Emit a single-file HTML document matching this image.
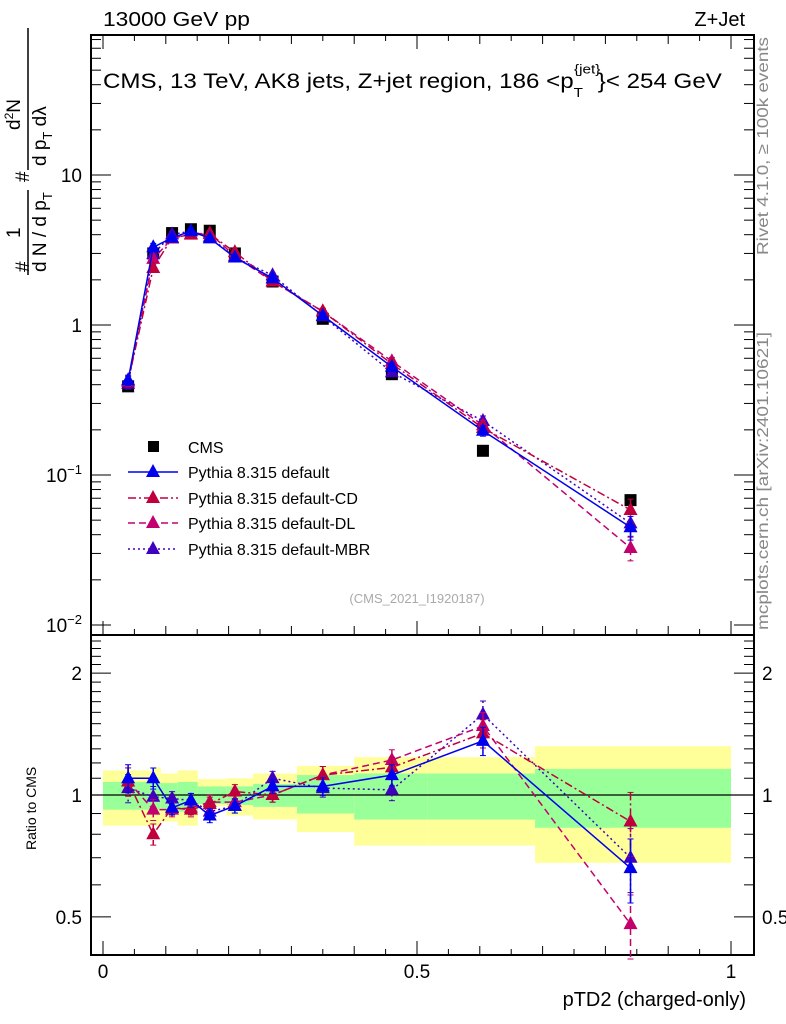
<!DOCTYPE html>
<html><head><meta charset="utf-8"><style>
html,body{margin:0;padding:0;background:#fff;}
svg{display:block;font-family:"Liberation Sans",sans-serif;}
</style></head><body>
<svg id="chart" width="786" height="1024" xmlns="http://www.w3.org/2000/svg">
<g id="bands"></g>
<g id="frames"></g>
<g id="series"></g>
<text transform="translate(103,26) scale(1.2,1.05)" font-size="19">13000 GeV pp</text>
<text x="745" y="26" font-size="20" text-anchor="end">Z+Jet</text>
<text transform="translate(103,88) scale(1.27,1.1)" font-size="19">CMS, 13 TeV, AK8 jets, Z+jet region, 186 &lt;p<tspan font-size="12" dy="8">T</tspan><tspan font-size="12" dx="-7" dy="-21">{jet}</tspan><tspan dy="13" dx="-2">}&lt; 254 GeV</tspan></text>
<text x="417" y="603" font-size="13" fill="#aaa" text-anchor="middle">(CMS_2021_I1920187)</text>
<text transform="translate(768,255) rotate(-90)" font-size="16" fill="#888" textLength="218" lengthAdjust="spacingAndGlyphs">Rivet 4.1.0, ≥ 100k events</text>
<text transform="translate(768,630) rotate(-90)" font-size="16" fill="#888" textLength="298" lengthAdjust="spacingAndGlyphs">mcplots.cern.ch [arXiv:2401.10621]</text>
<g font-size="19">
 <text transform="translate(29,272) rotate(-90)">#</text>
 <text transform="translate(20,238) rotate(-90)">1</text>
 <line x1="28" y1="275" x2="28" y2="190" stroke="#000" stroke-width="1.5"/>
 <text transform="translate(46,272) rotate(-90)">d N / d p<tspan font-size="13" dy="6">T</tspan></text>
 <text transform="translate(29,182) rotate(-90)">#</text>
 <text transform="translate(20,130) rotate(-90)">d<tspan font-size="12" dy="-7">2</tspan><tspan dy="7">N</tspan></text>
 <line x1="28" y1="170" x2="28" y2="28" stroke="#000" stroke-width="1.5"/>
 <text transform="translate(46,166) rotate(-90)">d p<tspan font-size="13" dy="6">T</tspan><tspan dy="-6"> d</tspan>λ</text>
</g>
<text transform="translate(36,850) rotate(-90)" font-size="14">Ratio to CMS</text>
<text x="746" y="1006" font-size="20" text-anchor="end">pTD2 (charged-only)</text>
<g id="legend" font-size="16"></g>
</svg>
<script>
const xCenters=[0.04,0.08,0.11,0.14,0.17,0.21,0.27,0.35,0.46,0.605,0.84];
const cmsValues=[0.39,3.0,4.1,4.35,4.25,3.0,1.95,1.1,0.47,0.145,0.068];
const cmsErr=[0.04,0.04,0.03,0.03,0.03,0.04,0.05,0.05,0.06,0.09,0.15];
const ratioDefault=[1.10,1.10,0.93,0.97,0.89,0.94,1.05,1.05,1.12,1.36,0.66];
const ratioCD=[1.08,0.80,0.93,0.92,0.95,1.02,1.00,1.12,1.17,1.42,0.86];
const ratioDL=[1.08,0.92,0.92,0.93,0.96,0.96,1.00,1.12,1.22,1.48,0.48];
const ratioMBR=[1.04,0.99,0.98,0.97,0.91,0.94,1.10,1.04,1.03,1.58,0.70];
const mcErr=[0.08,0.06,0.04,0.04,0.04,0.04,0.04,0.05,0.06,0.08,0.18];
const binEdges=[0,0.078,0.092,0.119,0.151,0.197,0.239,0.309,0.4,0.517,0.688,1.0];
const yellowHi=[1.15,1.17,1.13,1.15,1.095,1.10,1.13,1.18,1.24,1.24,1.32];
const yellowLo=[0.84,0.84,0.86,0.84,0.94,0.89,0.87,0.81,0.75,0.75,0.68];
const greenHi=[1.077,1.077,1.07,1.077,1.05,1.05,1.065,1.12,1.13,1.13,1.16];
const greenLo=[0.92,0.92,0.92,0.91,0.95,0.945,0.935,0.90,0.87,0.87,0.83];
const mainTicks=[0.01,0.1,1,10];
const mainTickLabels=["10","10","1","10"];
const mainTickExp=["−2","−1","",""];
const ratioTicks=[0.5,1,2];
const ratioTickLabels=["0.5","1","2"];
const xTicks=[0,0.5,1];
const xTickLabels=["0","0.5","1"];

const NS="http://www.w3.org/2000/svg";
const L=91,R=754,T=35,MB=635,RB=955;
const X=v=>103+628*v;
const Ym=v=>325-150*Math.log10(v);
const Yr=v=>795-405*Math.log10(v);
function mk(tag,attrs,parent){const e=document.createElementNS(NS,tag);for(const k in attrs)e.setAttribute(k,attrs[k]);parent.appendChild(e);return e;}
const svg=document.getElementById('chart');
const bands=document.getElementById('bands'),frames=document.getElementById('frames'),series=document.getElementById('series');

for(let i=0;i<binEdges.length-1;i++){
  const x0=X(binEdges[i]),x1=X(binEdges[i+1]);
  const y=mk('rect',{x:x0,y:Yr(yellowHi[i]),width:x1-x0,height:Yr(yellowLo[i])-Yr(yellowHi[i]),fill:'#ffff99'},bands);
  
  
  const g=mk('rect',{x:x0,y:Yr(greenHi[i]),width:x1-x0,height:Yr(greenLo[i])-Yr(greenHi[i]),fill:'#99ff99'},bands);
  
  
}
mk('line',{x1:L,x2:R,y1:Yr(1),y2:Yr(1),stroke:'#000','stroke-width':1.2},frames);

const f1=mk('rect',{x:L,y:T,width:R-L,height:MB-T,fill:'none',stroke:'#000','stroke-width':2},frames);


const f2=mk('rect',{x:L,y:MB,width:R-L,height:RB-MB,fill:'none',stroke:'#000','stroke-width':2},frames);


for(let k=0;k<=20;k++){const v=k*0.05,x=X(v);const len=(k%10==0)?14:(k%2==0?9:6);
  mk('line',{x1:x,x2:x,y1:RB,y2:RB-len,stroke:'#000'},frames);
  mk('line',{x1:x,x2:x,y1:T,y2:T+len,stroke:'#000'},frames);
  mk('line',{x1:x,x2:x,y1:MB,y2:MB-len,stroke:'#000'},frames);}
xTicks.forEach((v,i)=>{const t=mk('text',{x:X(v),y:978,'font-size':19,'text-anchor':'middle'},svg);t.textContent=xTickLabels[i];
  
  });
for(let d=-2;d<=1;d++){for(let m=1;m<10;m++){const v=m*Math.pow(10,d),y=Ym(v);if(y<T||y>MB)continue;const len=m==1?20:10;
  mk('line',{x1:L,x2:L+len,y1:y,y2:y,stroke:'#000'},frames);mk('line',{x1:R,x2:R-len,y1:y,y2:y,stroke:'#000'},frames);}}
mainTicks.forEach((v,i)=>{const t=mk('text',{x:82,y:Ym(v)+7,'font-size':19,'text-anchor':'end'},svg);
  t.textContent=mainTickLabels[i];
  if(mainTickExp[i]){const s=mk('tspan',{'font-size':13,dy:-8},t);s.textContent=mainTickExp[i];}
  
  });
for(let v=0.4;v<=2.5;v+=0.1){const y=Yr(v);if(y<MB||y>RB)continue;const maj=Math.abs(v-0.5)<1e-6||Math.abs(v-1)<1e-6||Math.abs(v-2)<1e-6;const len=maj?20:10;
  mk('line',{x1:L,x2:L+len,y1:y,y2:y,stroke:'#000'},frames);mk('line',{x1:R,x2:R-len,y1:y,y2:y,stroke:'#000'},frames);}
ratioTicks.forEach((v,i)=>{[[82,'end'],[762,'start']].forEach(([x,a])=>{const t=mk('text',{x:x,y:Yr(v)+7,'font-size':19,'text-anchor':a},svg);t.textContent=ratioTickLabels[i];
  
  });});

const defs=[
 {name:'default',r:ratioDefault,c:'#0000ee',dash:'',label:'Pythia 8.315 default'},
 {name:'cd',r:ratioCD,c:'#c0003c',dash:'8,3,2,3',label:'Pythia 8.315 default-CD'},
 {name:'dl',r:ratioDL,c:'#c2006e',dash:'7,4',label:'Pythia 8.315 default-DL'},
 {name:'mbr',r:ratioMBR,c:'#4000c0',dash:'2,3',label:'Pythia 8.315 default-MBR'}];
function tri(x,y,c,p,name){const t=mk('polygon',{points:`${x},${y-8} ${x-7},${y+5} ${x+7},${y+5}`,fill:c},p);
  
  }
defs.slice().reverse().forEach(s=>{
  const g=mk('g',{},series);
  
  
  const vals=s.r.map((r,i)=>r*cmsValues[i]);
  const pm=xCenters.map((x,i)=>X(x)+','+Ym(vals[i])).join(' ');
  mk('polyline',{points:pm,fill:'none',stroke:s.c,'stroke-width':1.5,'stroke-dasharray':s.dash},g);
  const pr=xCenters.map((x,i)=>X(x)+','+Yr(s.r[i])).join(' ');
  mk('polyline',{points:pr,fill:'none',stroke:s.c,'stroke-width':1.5,'stroke-dasharray':s.dash},g);
  xCenters.forEach((xv,i)=>{const x=X(xv),e=mcErr[i];
    [[Ym(vals[i]*(1+e)),Ym(vals[i]*(1-e))],[Yr(s.r[i]*(1+e)),Yr(s.r[i]*(1-e))]].forEach(([a,b])=>{
      mk('line',{x1:x,x2:x,y1:a,y2:b,stroke:s.c,'stroke-width':1.5,'stroke-dasharray':s.dash},g);
      mk('line',{x1:x-3,x2:x+3,y1:a,y2:a,stroke:s.c},g);mk('line',{x1:x-3,x2:x+3,y1:b,y2:b,stroke:s.c},g);});
    tri(x,Ym(vals[i]),s.c,g,'marker-'+s.name);tri(x,Yr(s.r[i]),s.c,g,'ratio-marker-'+s.name);});
});
const cg=mk('g',{},series);


series.insertBefore(cg,series.firstChild);
xCenters.forEach((xv,i)=>{const x=X(xv),y=Ym(cmsValues[i]);
  const r=mk('rect',{x:x-6,y:y-6,width:12,height:12,fill:'#000'},cg);
  
  });

const lg=document.getElementById('legend');
const rows=[447,472,498,523,549];
mk('rect',{x:148,y:441,width:11,height:11,fill:'#000'},lg);
const t0=mk('text',{x:188,y:453},lg);t0.textContent='CMS';
defs.forEach((s,i)=>{const y=rows[i+1];
  mk('line',{x1:128,x2:178,y1:y,y2:y,stroke:s.c,'stroke-width':1.5,'stroke-dasharray':s.dash},lg);
  tri(153,y,s.c,lg,'legend-marker');
  const t=mk('text',{x:188,y:y+6},lg);t.textContent=s.label;
  
  });
</script>
</body></html>
